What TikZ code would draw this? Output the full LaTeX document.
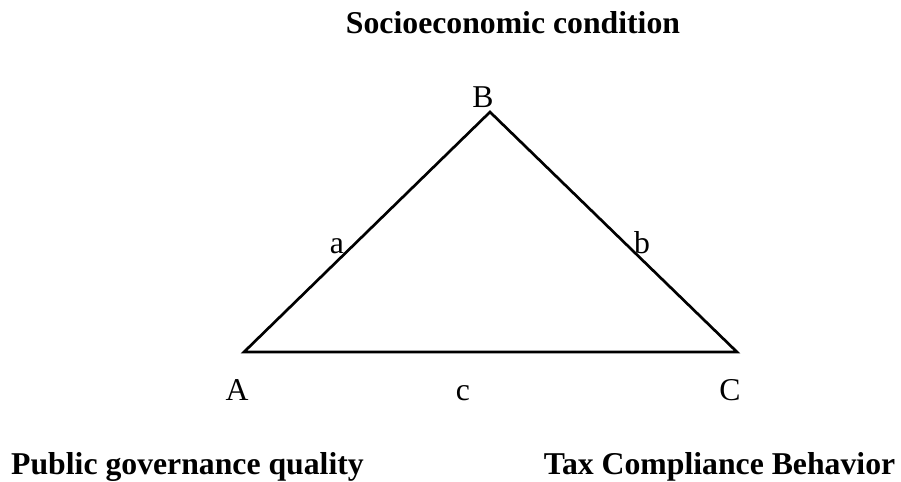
\documentclass[tikz,border=0pt]{standalone}
\usepackage{fontspec}
\setmainfont{Liberation Serif}
\usetikzlibrary{positioning}

\begin{document}
\begin{tikzpicture}[x=0.75pt, y=-0.75pt, font=\fontsize{23.8}{28}\selectfont,
    lbl/.style={anchor=base, inner sep=0pt},
    ttl/.style={lbl, font=\fontsize{23.8}{28}\selectfont\bfseries}]
        \useasboundingbox (0,0) rectangle (901,482);
        % Triangulo
        \coordinate (pa) at (244,352);
        \coordinate (pb) at (490,112);
        \coordinate (pc) at (737,352);
        \draw[line width=2pt, line join=miter] (pa) -- (pb) -- (pc) -- cycle;
        % Letras de vertices y lados
        \foreach \n/\t/\x/\y in
          {lB/B/483/107, la/a/337/253, lb/b/642/253,
           lA/A/237/400, lc/c/463/400, lC/C/730/400}
        {
          \node[lbl] (\n) at (\x,\y) {\t};
        }
        % Variables
        \node[ttl] (socio) at (513,33) {Socioeconomic condition};
        \node[ttl] (gov) at (187.5,474) {Public governance quality};
        \node[ttl] (tax) at (719.5,474) {Tax Compliance Behavior};
      \end{tikzpicture}
\end{document}
